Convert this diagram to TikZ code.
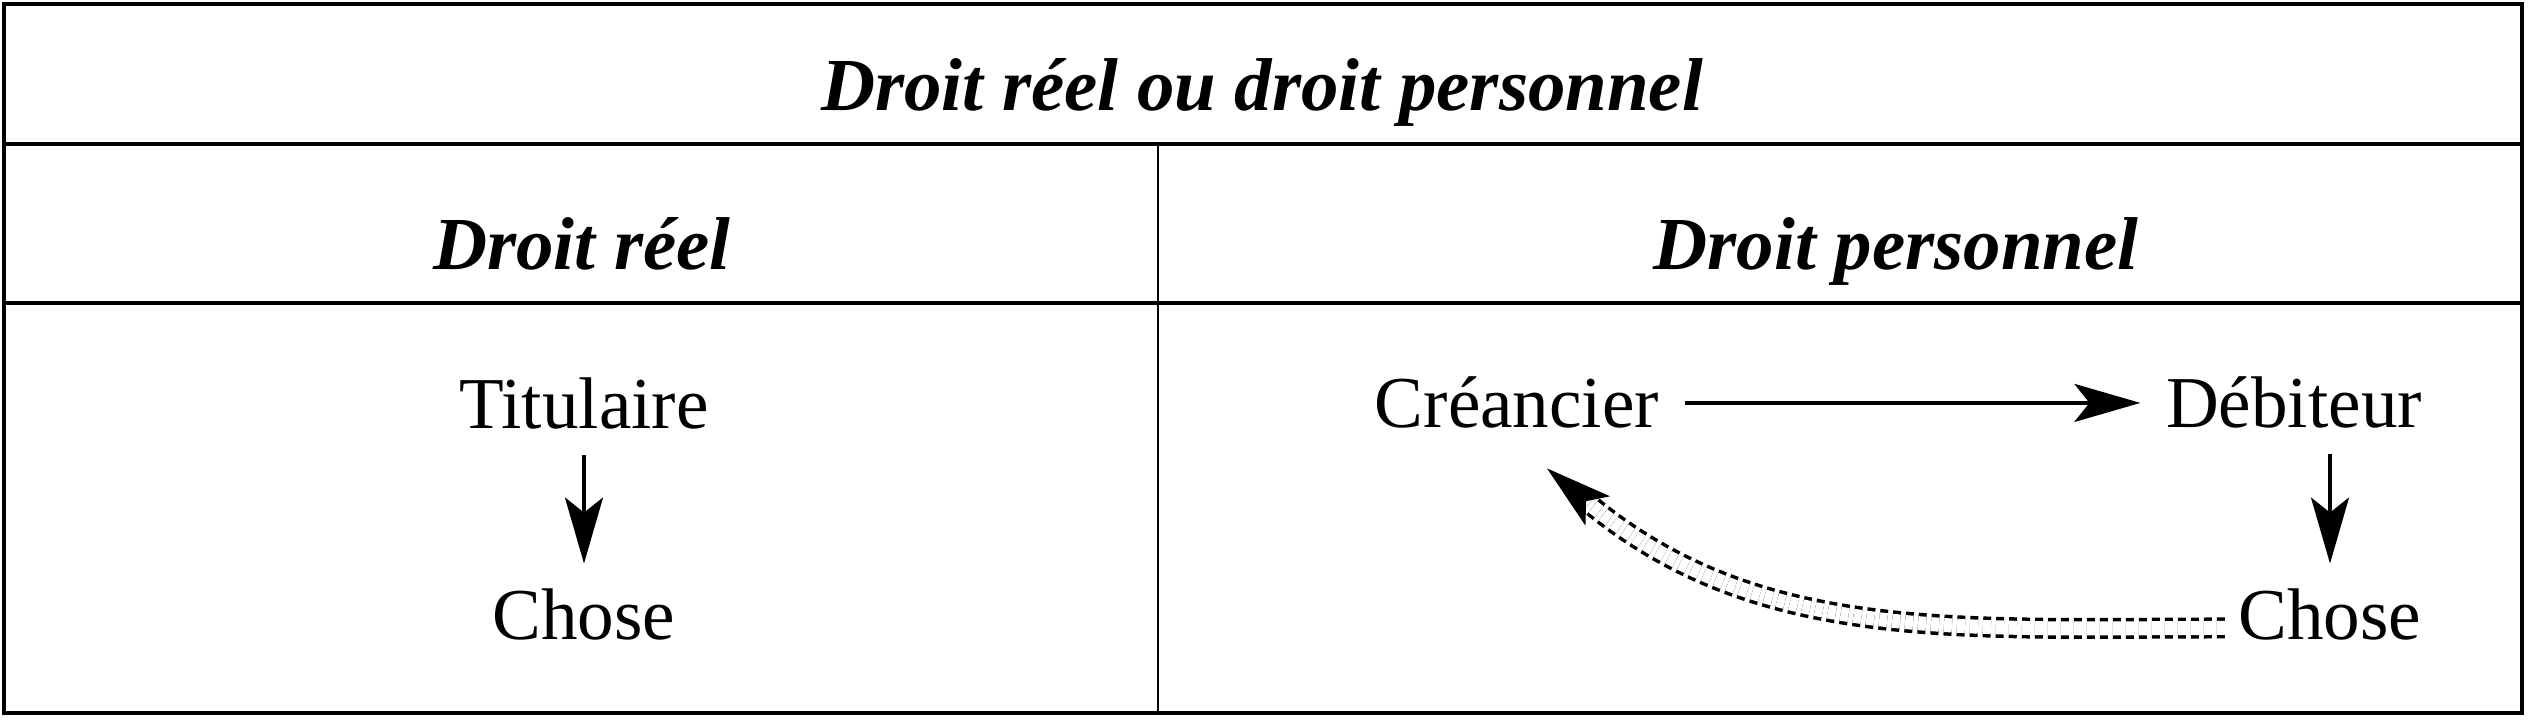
\documentclass[tikz,border=0pt]{standalone}
\usepackage{fontspec}
\setmainfont{Liberation Serif}
\usetikzlibrary{arrows.meta}

\begin{document}
\begin{tikzpicture}[
        entry/.style={inner sep=0.25cm, anchor=base, font=\fontsize{20.8}{25}\selectfont},
        heading/.style={inner sep=0.25cm, anchor=base, font=\fontsize{21.3}{26}\selectfont\bfseries\itshape},
        arrowline/.style={line width=0.035cm, -{Stealth[length=0.66cm, width=0.38cm, inset=0.15cm]}},
        returnline/.style={line width=0.035cm, double, double distance=0.14cm,
            dash pattern=on 0.08cm off 0.05cm, -{Stealth[length=0.66cm, width=0.38cm, inset=0.15cm]}}
    ]
                    \useasboundingbox (0,0) rectangle (25.28,7.20);

                    % Changing color 0 0 0
                    \definecolor{r0g0b0}{rgb}{0.000000,0.000000,0.000000}%
                    \color{r0g0b0}%

                    % Drawing frame
                    \draw [line width=0.035cm] (0.040000,0.070000) rectangle (25.220000,7.160000);%

                    % Drawing segment below title
                    \draw [line width=0.035cm] (0.040000,5.760000) -- (25.220000,5.760000);%

                    % Drawing segment below headings
                    \draw [line width=0.035cm] (0.040000,4.170000) -- (25.220000,4.170000);%

                    % Drawing segment between columns
                    \draw [line width=0.02cm] (11.580000,5.760000) -- (11.580000,0.070000);%

                    % Marking title
                    \node (title) [heading] at (12.620000,6.090000) {Droit réel ou droit personnel};%

                    % Marking headings
                    \node (reel) [heading] at (5.820000,4.500000) {Droit réel};%
                    \node (personnel) [heading] at (18.960000,4.500000) {Droit personnel};%

                    % Marking points of droit reel
                    \node (titulaire) [entry] at (5.840000,2.910000) {Titulaire};%
                    \node (chosereel) [entry] at (5.840000,0.800000) {Chose};%

                    % Marking points of droit personnel
                    \node (creancier) [entry] at (15.170000,2.920000) {Créancier};%
                    \node (debiteur) [entry] at (22.940000,2.920000) {Débiteur};%
                    \node (chosepers) [entry] at (23.300000,0.800000) {Chose};%

                    % Drawing arrow titulaire chose
                    \draw [arrowline] (titulaire) -- (chosereel);%

                    % Drawing arrow creancier debiteur
                    \draw [arrowline] (creancier) -- (debiteur);%

                    % Drawing arrow debiteur chose
                    \draw [arrowline] (chosepers.north |- debiteur.south) -- (chosepers.north);%

                    % Drawing curve chose creancier
                    \draw [returnline] ([xshift=0.12cm,yshift=-0.13cm]chosepers.west)
                        to [out=180, in=-40] ([xshift=0.30cm,yshift=-0.14cm]creancier.south);%
\end{tikzpicture}
\end{document}
